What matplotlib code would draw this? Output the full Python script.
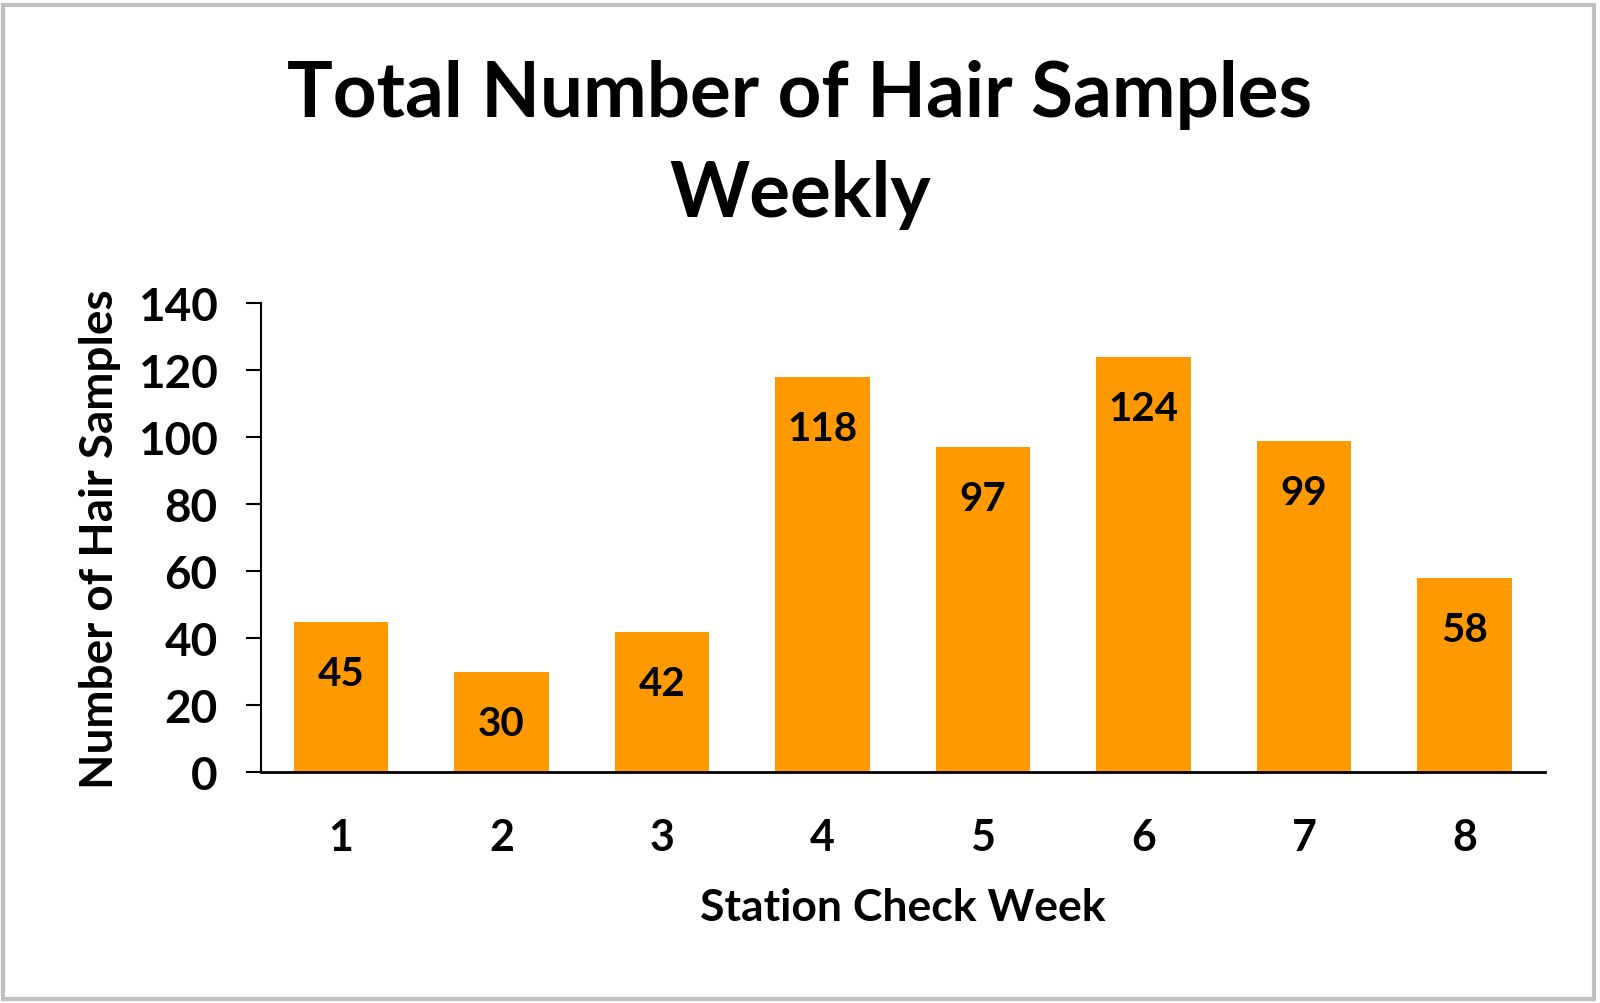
import matplotlib.pyplot as plt
from matplotlib.patches import Rectangle

weeks = [1, 2, 3, 4, 5, 6, 7, 8]
samples = [45, 30, 42, 118, 97, 124, 99, 58]
yticks = [0, 20, 40, 60, 80, 100, 120, 140]

plt.rcParams['font.family'] = ['Lato', 'DejaVu Sans']

fig = plt.figure(figsize=(16, 10.04), dpi=100)
ax = fig.add_axes([0.163, 0.2296, 0.8025, 0.4674])

ax.bar(weeks, samples, width=0.59, color='#FF9900')
for x, v in zip(weeks, samples):
    ax.annotate(str(v), (x, v), xytext=(0, -37), textcoords='offset points',
                ha='center', va='center', fontsize=29, fontweight='bold')

ax.set_xlim(0.5, 8.5)
ax.set_ylim(0, 140)
ax.set_yticks(yticks)
ax.set_xticks(weeks)
for s in ['top', 'right']:
    ax.spines[s].set_visible(False)
ax.spines['left'].set_linewidth(1.5)
ax.spines['bottom'].set_linewidth(2)
ax.tick_params(axis='y', length=11, width=1.5, labelsize=33, pad=20)
ax.tick_params(axis='x', length=0, labelsize=31, pad=32)
for lab in ax.get_xticklabels() + ax.get_yticklabels():
    lab.set_fontweight('bold')

ax.set_xlabel('Station Check Week', fontsize=32, fontweight='bold', labelpad=22)
ax.set_ylabel('Number of Hair Samples', fontsize=33, fontweight='bold', labelpad=12)

fig.text(0.5, 0.905, 'Total Number of Hair Samples', ha='center', va='center',
         fontsize=55, fontweight='bold')
fig.text(0.5, 0.806, 'Weekly', ha='center', va='center',
         fontsize=55, fontweight='bold')

fig.patches.append(Rectangle((0.002, 0.004), 0.994, 0.99, transform=fig.transFigure,
                             fill=False, edgecolor='#BFBFBF', linewidth=3))

fig.savefig('out.png', dpi=100)
